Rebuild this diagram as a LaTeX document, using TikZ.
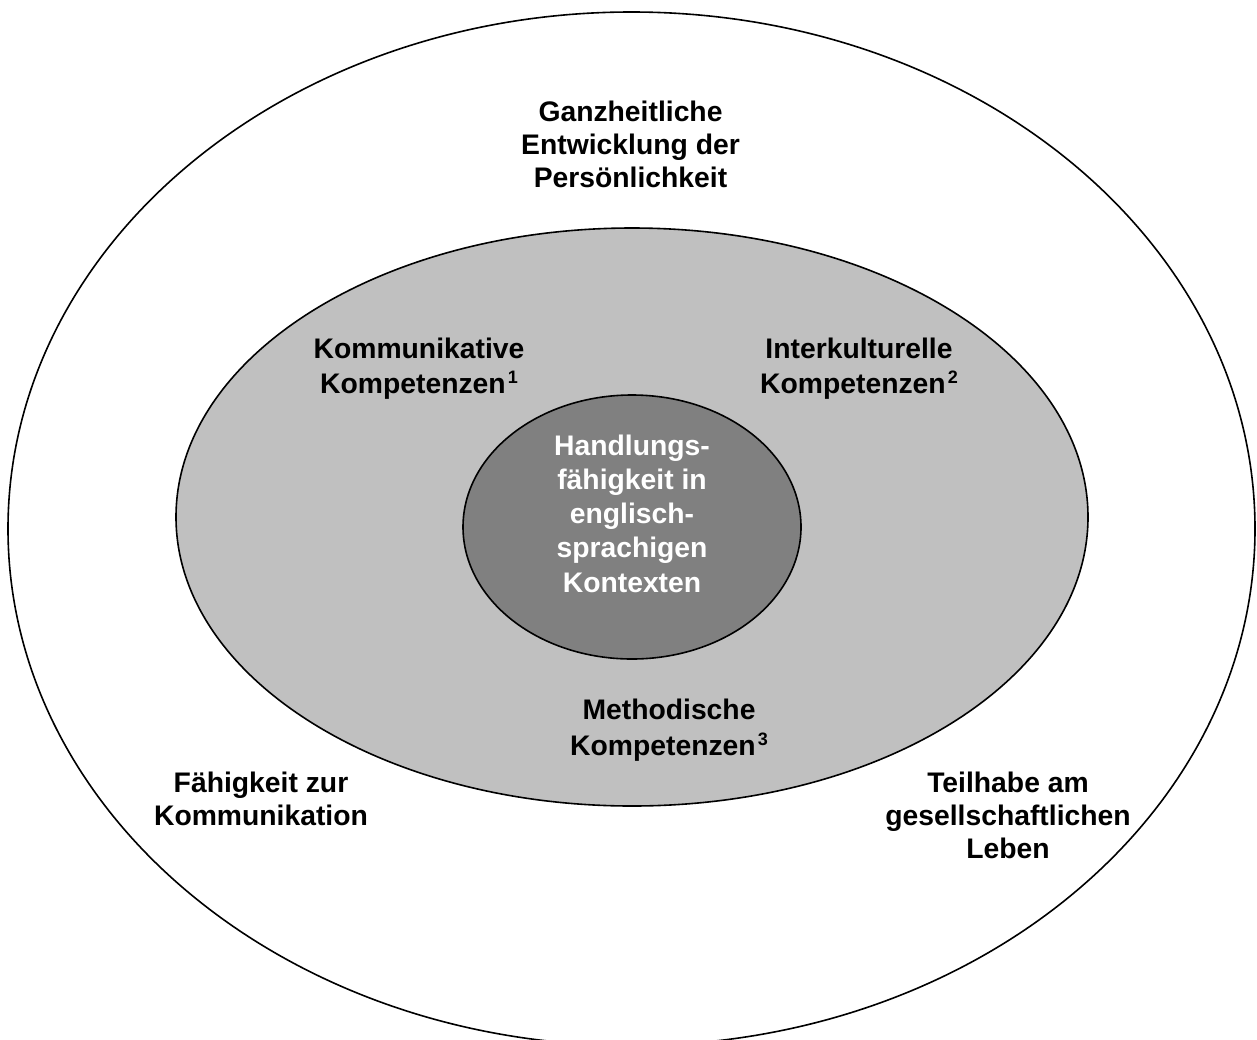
\documentclass[tikz,border=0pt]{standalone}
\usepackage{fontspec}
\setmainfont{Liberation Sans}
\usetikzlibrary{shapes.geometric}
\definecolor{midgray}{HTML}{C0C0C0}
\definecolor{coregray}{HTML}{808080}
\newcommand\supnum[1]{\kern2pt\raisebox{10pt}{\fontsize{18}{18}\selectfont #1}}
\begin{document}
\begin{tikzpicture}[x=1pt,y=-1pt,
  ring/.style={ellipse, draw=black, line width=1.6pt, inner sep=0pt},
  lbl/.style={align=center, font=\bfseries\fontsize{28.3}{#1}\selectfont, inner sep=0pt},
]
\useasboundingbox (0,0) rectangle (1257,1039);
\node[ring, minimum width=1247pt, minimum height=1033.6pt] (outer) at (631.5,528.8) {};
\node[ring, fill=midgray, minimum width=912pt, minimum height=578pt] (middle) at (632,517) {};
\node[ring, fill=coregray, minimum width=338pt, minimum height=264pt] (inner) at (632,527) {};

\node[lbl=33] (ganz) at (630.5,147.4) {\strut Ganzheitliche\\\strut Entwicklung der\\\strut Persönlichkeit};
\node[lbl=35] (komm) at (419,368.5) {\strut Kommunikative\\\strut Kompetenzen\supnum{1}};
\node[lbl=35] (inter) at (859,368.5) {\strut Interkulturelle\\\strut Kompetenzen\supnum{2}};
\node[lbl=34.25, text=white] (hand) at (632,516.7) {\strut Handlungs-\\\strut fähigkeit in\\\strut englisch-\\\strut sprachigen\\\strut Kontexten};
\node[lbl=36] (meth) at (669,729.8) {\strut Methodische\\\strut Kompetenzen\supnum{3}};
\node[lbl=33] (faeh) at (261,801.9) {\strut Fähigkeit zur\\\strut Kommunikation};
\node[lbl=33] (teil) at (1008,818.4) {\strut Teilhabe am\\\strut gesellschaftlichen\\\strut Leben};
\end{tikzpicture}
\end{document}
